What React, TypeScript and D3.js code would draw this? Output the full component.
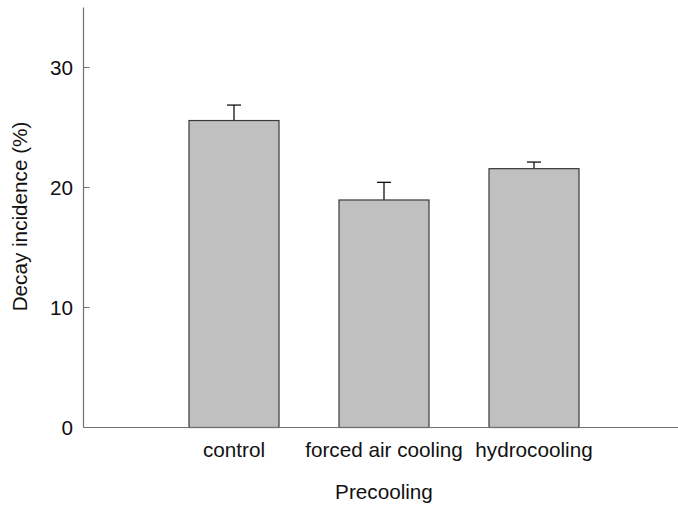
import React from "react";
import * as d3 from "d3";

const categories = ["control", "forced air cooling", "hydrocooling"];
const values = [25.58, 18.96, 21.57];
const errors = [1.29, 1.47, 0.55];
const yTicks = [0, 10, 20, 30];

const W = 678;
const H = 509;

export default function App() {
  const y = d3.scaleLinear().domain([0, 35]).range([427.5, 7.5]);
  const x = d3.scaleLinear().domain([0, 4]).range([84, 684]);
  const barW = x(0.6) - x(0);
  const axisColor = "#707070";
  const font = "Liberation Sans, Arial, sans-serif";
  const fs = 20.7;

  return (
    <svg
      width={W}
      height={H}
      style={{ position: "absolute", left: 0, top: 0, background: "#fff" }}
      fontFamily={font}
    >
      {categories.map((c, i) => {
        const cx = x(i + 1);
        const top = y(values[i]);
        const et = y(values[i] + errors[i]);
        return (
          <g key={c}>
            <line x1={cx} x2={cx} y1={top} y2={et} stroke="#111" strokeWidth={1.3} />
            <line x1={cx - 7} x2={cx + 7} y1={et} y2={et} stroke="#111" strokeWidth={1.3} />
            <rect
              x={cx - barW / 2}
              y={top}
              width={barW}
              height={y(0) - top}
              fill="#c0c0c0"
              stroke="#3a3a3a"
              strokeWidth={1.2}
            />
            <text x={cx} y={457} textAnchor="middle" fontSize={fs} fill="#111">
              {c}
            </text>
          </g>
        );
      })}
      {/* axes */}
      <line x1={83.5} x2={83.5} y1={y(35)} y2={y(0)} stroke={axisColor} strokeWidth={1.2} />
      <line x1={83.5} x2={W} y1={y(0)} y2={y(0)} stroke={axisColor} strokeWidth={1.2} />
      {yTicks.map((t) => (
        <g key={t}>
          {t !== 0 && (
            <line x1={83.5} x2={89.5} y1={y(t)} y2={y(t)} stroke={axisColor} strokeWidth={1} />
          )}
          <text x={73} y={y(t) + 7} textAnchor="end" fontSize={fs} fill="#111">
            {t}
          </text>
        </g>
      ))}
      <text x={x(2)} y={499} textAnchor="middle" fontSize={fs} fill="#111">
        Precooling
      </text>
      <text
        transform={`translate(27,216.5) rotate(-90)`}
        textAnchor="middle"
        fontSize={fs}
        fill="#111"
      >
        Decay incidence (%)
      </text>
    </svg>
  );
}
